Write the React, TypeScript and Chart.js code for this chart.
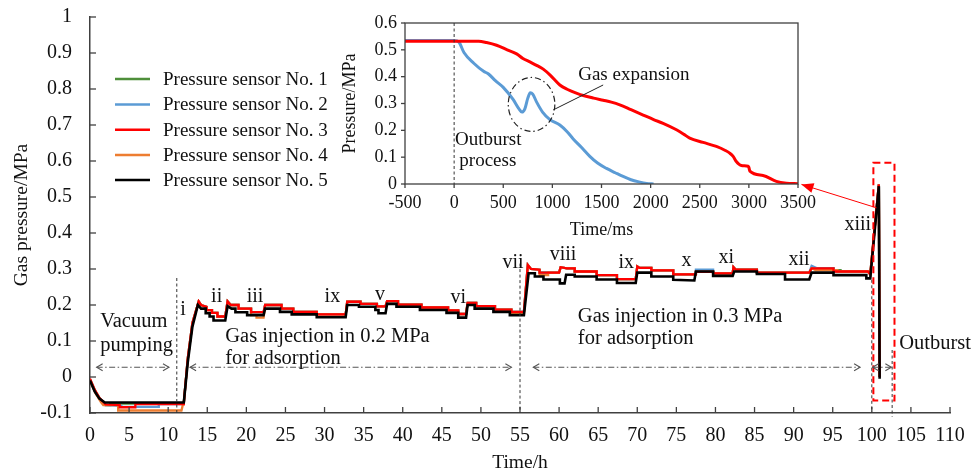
import React, { useEffect, useRef } from 'react';
import { Chart, registerables } from 'chart.js';

Chart.register(...registerables);

const FONT = '"Liberation Serif", "Times New Roman", serif';

type P = [number, number];

// ---------- main chart data (time in h, pressure in MPa) ----------
const sensorNames = [
  'Pressure sensor No. 1',
  'Pressure sensor No. 2',
  'Pressure sensor No. 3',
  'Pressure sensor No. 4',
  'Pressure sensor No. 5',
];
const sensorColors = ['#4E8F3A', '#5B9BD5', '#FF0000', '#ED7D31', '#000000'];

// vacuum pumping stage of sensors 1-4
const vacuum1: P[] = [[0, -0.006], [0.7, -0.04], [1.4, -0.065], [2.0, -0.078], [2.6, -0.078], [2.6, -0.074], [11.9, -0.074]];
const vacuum2: P[] = [[0, -0.008], [0.6, -0.04], [1.3, -0.062], [1.9, -0.078], [4.0, -0.08], [4.0, -0.083], [8.8, -0.083], [8.8, -0.075], [11.9, -0.075]];
const vacuum3: P[] = [[0, -0.005], [0.6, -0.035], [1.2, -0.058], [2.0, -0.076], [3.8, -0.078], [3.8, -0.084], [5.8, -0.084], [5.8, -0.075], [11.9, -0.075]];
const vacuum4: P[] = [[0, -0.01], [0.7, -0.045], [1.4, -0.07], [1.7, -0.078], [3.6, -0.078], [3.6, -0.093], [11.7, -0.093], [11.9, -0.075]];

// adsorption + outburst stage shared by sensors 1-4 (upper trace)
const upperProfile: P[] = [
  [12.0, -0.072], [12.5, 0.05], [13.1, 0.15], [13.9, 0.21], [14.2, 0.2], [14.9, 0.195], [14.9, 0.186],
  [15.6, 0.186], [15.6, 0.178], [16.3, 0.178], [16.3, 0.168], [17.3, 0.168], [17.6, 0.21], [18.0, 0.2],
  [19.0, 0.2], [19.0, 0.19], [20.6, 0.19], [20.6, 0.18], [22.2, 0.18], [22.4, 0.2], [24.5, 0.2],
  [24.5, 0.19], [26.0, 0.19], [26.0, 0.181], [29.0, 0.181], [29.0, 0.174], [32.7, 0.174], [32.9, 0.209],
  [34.6, 0.209], [34.6, 0.203], [36.7, 0.203], [36.7, 0.196], [37.8, 0.196], [38.0, 0.211], [39.4, 0.211],
  [39.4, 0.201], [42.4, 0.201], [42.4, 0.193], [45.8, 0.193], [45.8, 0.185], [47.1, 0.185], [47.1, 0.175],
  [48.1, 0.175], [48.3, 0.206], [49.4, 0.206], [49.4, 0.197], [51.8, 0.197], [51.8, 0.187], [53.9, 0.187],
  [53.9, 0.181], [55.5, 0.181], [56.0, 0.311], [56.4, 0.3], [57.5, 0.298], [57.5, 0.29], [60.0, 0.29],
  [60.2, 0.305], [61.0, 0.302], [62.0, 0.302], [62.0, 0.293], [64.8, 0.293], [64.8, 0.283], [67.4, 0.283],
  [67.4, 0.272], [69.8, 0.272], [70.0, 0.307], [70.3, 0.303], [71.8, 0.303], [71.8, 0.296], [74.6, 0.296],
  [74.6, 0.285], [77.4, 0.285], [77.5, 0.292], [79.7, 0.292], [79.7, 0.288], [82.2, 0.288], [82.3, 0.305],
  [82.6, 0.298], [85.3, 0.298], [85.3, 0.29], [92.0, 0.29], [92.3, 0.302], [95.1, 0.302], [95.1, 0.293],
  [99.5, 0.293], [99.8, 0.285], [100.9, 0.535], [101.0, 0.0],
];

// local deviations of individual sensors
const blueFixA: P[] = [[77.4, 0.285], [77.5, 0.298], [79.7, 0.298], [79.7, 0.288]];
const blueFixB: P[] = [[92.0, 0.29], [92.3, 0.309], [93.0, 0.302]];
const greenFix: P[] = [[95.1, 0.302], [95.1, 0.297], [96.0, 0.297], [96.0, 0.293]];
const orangeFixA: P[] = [[20.6, 0.19], [20.6, 0.172], [21.3, 0.172], [21.3, 0.165], [22.2, 0.165]];
const orangeFixB: P[] = [[53.9, 0.187], [53.9, 0.176], [55.5, 0.176]];
const orangeFixC: P[] = [[57.5, 0.298], [57.5, 0.283], [58.6, 0.283], [58.6, 0.29]];
const orangeFixD: P[] = [[92.3, 0.302], [92.8, 0.297], [95.6, 0.297], [95.6, 0.293]];

// sensor 5 (lower, black trace)
const sensor5: P[] = [
  [0, -0.01], [0.6, -0.04], [1.2, -0.06], [1.9, -0.071], [12.0, -0.071], [12.5, 0.04], [13.1, 0.14],
  [13.8, 0.2], [14.2, 0.19], [14.8, 0.19], [14.8, 0.177], [15.3, 0.177], [15.3, 0.168], [15.8, 0.168],
  [15.8, 0.157], [17.3, 0.157], [17.6, 0.197], [18.1, 0.19], [18.6, 0.19], [18.6, 0.18], [20.1, 0.18],
  [20.1, 0.172], [22.2, 0.172], [22.4, 0.19], [24.3, 0.19], [24.3, 0.181], [25.8, 0.181], [25.8, 0.174],
  [29.0, 0.174], [29.0, 0.166], [32.7, 0.166], [32.9, 0.2], [34.4, 0.2], [34.4, 0.195], [36.5, 0.195],
  [36.5, 0.186], [36.9, 0.186], [36.9, 0.177], [37.8, 0.177], [38.0, 0.203], [39.2, 0.203], [39.2, 0.195],
  [42.2, 0.195], [42.2, 0.186], [45.6, 0.186], [45.6, 0.178], [47.1, 0.178], [47.1, 0.165], [48.1, 0.165],
  [48.3, 0.2], [49.2, 0.2], [49.2, 0.19], [51.6, 0.19], [51.6, 0.181], [53.7, 0.181], [53.7, 0.172],
  [55.5, 0.172], [56.1, 0.288], [56.9, 0.288], [56.9, 0.279], [58.0, 0.279], [58.0, 0.271], [60.1, 0.271],
  [60.1, 0.26], [60.7, 0.26], [60.9, 0.284], [62.0, 0.284], [62.0, 0.279], [64.8, 0.279], [64.8, 0.271],
  [67.4, 0.271], [67.4, 0.261], [69.8, 0.261], [70.0, 0.29], [71.8, 0.29], [71.8, 0.279], [74.6, 0.279],
  [74.6, 0.27], [77.3, 0.268], [77.5, 0.293], [79.7, 0.293], [79.7, 0.281], [82.2, 0.281], [82.4, 0.293],
  [85.3, 0.293], [85.3, 0.286], [88.9, 0.286], [88.9, 0.271], [92.0, 0.271], [92.3, 0.29], [95.1, 0.29],
  [95.1, 0.283], [99.3, 0.283], [99.3, 0.274], [99.8, 0.274], [100.9, 0.53], [101.0, -0.005],
];

// ---------- inset data (time in ms, pressure in MPa) ----------
const insetBlue: P[] = [
  [-500, 0.535], [0, 0.535], [50, 0.528], [100, 0.49], [200, 0.45], [300, 0.42], [350, 0.41], [420, 0.385],
  [500, 0.36], [600, 0.315], [660, 0.28], [690, 0.268], [720, 0.28], [750, 0.32], [775, 0.34], [800, 0.335],
  [840, 0.305], [900, 0.268], [975, 0.24], [1076, 0.22], [1150, 0.195], [1212, 0.168], [1300, 0.135],
  [1381, 0.103], [1460, 0.078], [1551, 0.058], [1640, 0.042], [1720, 0.028], [1800, 0.016], [1880, 0.008],
  [1960, 0.002], [2030, 0],
];
const insetRed: P[] = [
  [-500, 0.532], [250, 0.532], [330, 0.527], [432, 0.517], [540, 0.5], [636, 0.485], [700, 0.468],
  [771, 0.455], [850, 0.44], [907, 0.428], [980, 0.405], [1076, 0.369], [1150, 0.353], [1250, 0.338],
  [1314, 0.33], [1420, 0.32], [1517, 0.312], [1600, 0.305], [1686, 0.295], [1800, 0.277], [1924, 0.257],
  [2030, 0.24], [2127, 0.226], [2263, 0.202], [2340, 0.185], [2398, 0.171], [2534, 0.155], [2669, 0.14],
  [2760, 0.125], [2805, 0.115], [2840, 0.103], [2870, 0.085], [2924, 0.069], [2992, 0.066], [3000, 0.062],
  [3010, 0.048], [3144, 0.032], [3280, 0.01], [3381, 0.003], [3500, 0.001],
];

// ---------- annotation labels ----------
const stageNumerals: [string, number, number][] = [
  ['i', 11.9, 0.186], ['ii', 16.2, 0.222], ['iii', 21.1, 0.222], ['ix', 31.0, 0.222], ['v', 37.1, 0.228],
  ['vi', 47.1, 0.219], ['vii', 54.1, 0.317], ['viii', 60.5, 0.339], ['ix', 68.6, 0.317], ['x', 76.3, 0.322],
  ['xi', 81.4, 0.33], ['xii', 90.7, 0.325], ['xiii', 98.2, 0.422],
];
const stageTexts: [string, number, number][] = [
  ['Vacuum', 1.3, 0.153], ['pumping', 1.3, 0.086],
  ['Gas injection in 0.2 MPa', 17.3, 0.111], ['for adsorption', 17.3, 0.05],
  ['Gas injection in 0.3 MPa', 62.4, 0.169], ['for adsorption', 62.4, 0.108],
  ['Outburst', 103.5, 0.094],
];
const stageArrows: [number, number, number][] = [
  [0.85, 10.1, 0.027], [12.8, 53.9, 0.027], [56.7, 98.5, 0.027], [100.1, 102.5, 0.027],
];
const dividerLines: [number, number, number][] = [
  [11.1, 0.275, -0.1], [55.0, 0.315, -0.1], [100.0, 0.27, -0.1], [102.6, 0.075, -0.11],
];

function splice(base: P[], seg: P[]): P[] {
  const a = seg[0][0];
  const b = seg[seg.length - 1][0];
  const out: P[] = [];
  let done = false;
  for (const p of base) {
    if (p[0] >= a && p[0] <= b) continue;
    if (p[0] > b && !done) {
      out.push(...seg);
      done = true;
    }
    out.push(p);
  }
  if (!done) out.push(...seg);
  return out;
}

const seriesData: P[][] = [
  splice([...vacuum1, ...upperProfile], greenFix),
  splice(splice([...vacuum2, ...upperProfile], blueFixA), blueFixB),
  [...vacuum3, ...upperProfile],
  splice(splice(splice(splice([...vacuum4, ...upperProfile], orangeFixA), orangeFixB), orangeFixC), orangeFixD),
  sensor5,
];
const drawOrder = [4, 3, 1, 2, 0];

const toXY = (arr: P[]) => arr.map(([x, y]) => ({ x, y }));

function setText(ctx: CanvasRenderingContext2D, size: number, align: CanvasTextAlign = 'left') {
  ctx.font = `${size}px ${FONT}`;
  ctx.textAlign = align;
  ctx.textBaseline = 'middle';
  ctx.fillStyle = '#111';
}

function line(ctx: CanvasRenderingContext2D, x1: number, y1: number, x2: number, y2: number) {
  ctx.beginPath();
  ctx.moveTo(x1, y1);
  ctx.lineTo(x2, y2);
  ctx.stroke();
}

const mainDecor = {
  id: 'mainDecor',
  afterDraw(chart: any) {
    const ctx: CanvasRenderingContext2D = chart.ctx;
    const xs = chart.scales.x;
    const ys = chart.scales.y;
    const X = (v: number) => xs.getPixelForValue(v);
    const Y = (v: number) => ys.getPixelForValue(v);
    const { left, bottom } = chart.chartArea;
    ctx.save();
    // inward tick marks
    ctx.strokeStyle = '#404040';
    ctx.lineWidth = 1.3;
    for (const t of xs.ticks) line(ctx, X(t.value), bottom, X(t.value), bottom - 6);
    for (const t of ys.ticks) line(ctx, left, Y(t.value), left + 6, Y(t.value));

    // legend
    const rowsY = [79, 104.5, 129.7, 154.9, 180.1];
    sensorNames.forEach((name, i) => {
      ctx.strokeStyle = sensorColors[i];
      ctx.lineWidth = 2.5;
      line(ctx, 115, rowsY[i], 150, rowsY[i]);
      setText(ctx, 19);
      ctx.fillText(name, 163, rowsY[i] + 1);
    });

    // dotted dividers
    ctx.strokeStyle = '#333';
    ctx.lineWidth = 1;
    ctx.setLineDash([3, 2.5]);
    for (const [t, v1, v2] of dividerLines) line(ctx, X(t), Y(v1), X(t), Y(v2));

    // red dashed box
    ctx.strokeStyle = '#FF0000';
    ctx.lineWidth = 2;
    ctx.setLineDash([7, 4]);
    ctx.strokeRect(X(100.2), Y(0.595), X(102.9) - X(100.2), Y(-0.065) - Y(0.595));
    ctx.setLineDash([]);

    // red arrow to inset
    const tx = X(100.6), ty = Y(0.47), hx = X(91.0), hy = Y(0.535);
    ctx.lineWidth = 1;
    line(ctx, tx, ty, hx, hy);
    const ang = Math.atan2(hy - ty, hx - tx);
    ctx.fillStyle = '#FF0000';
    ctx.beginPath();
    ctx.moveTo(hx, hy);
    ctx.lineTo(hx - 12 * Math.cos(ang) + 5 * Math.sin(ang), hy - 12 * Math.sin(ang) - 5 * Math.cos(ang));
    ctx.lineTo(hx - 12 * Math.cos(ang) - 5 * Math.sin(ang), hy - 12 * Math.sin(ang) + 5 * Math.cos(ang));
    ctx.closePath();
    ctx.fill();

    // stage arrows (dash-dot, double headed)
    ctx.strokeStyle = '#555';
    ctx.lineWidth = 1.1;
    for (const [a, b, v] of stageArrows) {
      const x1 = X(a), x2 = X(b), y = Y(v);
      ctx.setLineDash([6, 2.5, 1.5, 2.5]);
      line(ctx, x1, y, x2, y);
      ctx.setLineDash([]);
      const h = Math.min(6, (x2 - x1) / 3);
      ctx.beginPath();
      ctx.moveTo(x1 + h, y - 3.5); ctx.lineTo(x1, y); ctx.lineTo(x1 + h, y + 3.5);
      ctx.moveTo(x2 - h, y - 3.5); ctx.lineTo(x2, y); ctx.lineTo(x2 - h, y + 3.5);
      ctx.stroke();
    }

    // texts
    for (const [s, t, v] of stageTexts) {
      setText(ctx, 20.5);
      ctx.fillText(s, X(t), Y(v));
    }
    for (const [s, t, v] of stageNumerals) {
      setText(ctx, 20, 'center');
      ctx.fillText(s, X(t), Y(v));
    }
    ctx.restore();
  },
};

const insetDecor = {
  id: 'insetDecor',
  afterDraw(chart: any) {
    const ctx: CanvasRenderingContext2D = chart.ctx;
    const xs = chart.scales.x;
    const ys = chart.scales.y;
    const X = (v: number) => xs.getPixelForValue(v);
    const Y = (v: number) => ys.getPixelForValue(v);
    const { left, right, top, bottom } = chart.chartArea;
    ctx.save();
    ctx.strokeStyle = '#404040';
    ctx.lineWidth = 1.3;
    ctx.strokeRect(left, top, right - left, bottom - top);
    for (const t of xs.ticks) line(ctx, X(t.value), bottom, X(t.value), bottom + 4);
    for (const t of ys.ticks) line(ctx, left, Y(t.value), left - 4, Y(t.value));
    // dashed line at t = 0
    ctx.strokeStyle = '#333';
    ctx.lineWidth = 1;
    ctx.setLineDash([3, 2.5]);
    line(ctx, X(0), top, X(0), bottom);
    // dash-dot ellipse
    ctx.setLineDash([6, 3, 1.5, 3]);
    ctx.strokeStyle = '#222';
    ctx.lineWidth = 1.2;
    ctx.beginPath();
    ctx.ellipse((X(551) + X(1025)) / 2, (Y(0.397) + Y(0.196)) / 2, (X(1025) - X(551)) / 2, (Y(0.196) - Y(0.397)) / 2, 0, 0, Math.PI * 2);
    ctx.stroke();
    ctx.setLineDash([]);
    ctx.lineWidth = 1;
    line(ctx, X(1008), Y(0.276), X(1517), Y(0.369));
    setText(ctx, 19);
    ctx.fillText('Gas expansion', X(1263), Y(0.406));
    ctx.fillText('Outburst', X(8), Y(0.165));
    ctx.fillText('process', X(53), Y(0.084));
    ctx.restore();
  },
};

function fmt1(v: number) {
  const r = Math.round(v * 10) / 10;
  return r === 0 ? '0' : String(r);
}

export default function App() {
  const mainRef = useRef<HTMLCanvasElement>(null);
  const insetRef = useRef<HTMLCanvasElement>(null);

  useEffect(() => {
    const tickFont = { family: FONT, size: 20 };
    const main = new Chart(mainRef.current as HTMLCanvasElement, {
      type: 'line',
      data: {
        datasets: seriesData.map((d, i) => ({
          label: sensorNames[i],
          data: toXY(d),
          borderColor: sensorColors[i],
          borderWidth: i === 4 ? 2.6 : 2.3,
          pointRadius: 0,
          tension: 0,
          fill: false,
          order: drawOrder[i],
        })),
      },
      options: {
        responsive: false,
        animation: false,
        events: [],
        layout: { padding: { left: 0, top: 17, right: 27, bottom: 0 } },
        plugins: { legend: { display: false }, tooltip: { enabled: false } },
        scales: {
          x: {
            type: 'linear',
            min: 0,
            max: 110,
            afterFit: (s: any) => { s.height = 58; },
            ticks: { stepSize: 5, autoSkip: false, maxRotation: 0, padding: 0, color: '#111', font: tickFont, callback: (v: any) => String(v) },
            grid: { display: false, drawTicks: true, tickLength: 11 },
            border: { display: true, color: '#404040', width: 1.5 },
            title: { display: true, text: 'Time/h', color: '#111', font: { family: FONT, size: 19.5 }, padding: { top: 0, bottom: -4 } },
          },
          y: {
            type: 'linear',
            min: -0.1,
            max: 1,
            afterFit: (s: any) => { s.width = 90; },
            ticks: { stepSize: 0.1, autoSkip: false, padding: 0, color: '#111', font: tickFont, callback: (v: any) => fmt1(Number(v)) },
            grid: { display: false, drawTicks: true, tickLength: 18 },
            border: { display: true, color: '#404040', width: 1.5 },
            title: { display: true, text: 'Gas pressure/MPa', color: '#111', font: { family: FONT, size: 19.5 }, padding: { top: 10, bottom: 0 } },
          },
        },
      } as any,
      plugins: [mainDecor],
    });

    const insetFont = { family: FONT, size: 18 };
    const inset = new Chart(insetRef.current as HTMLCanvasElement, {
      type: 'line',
      data: {
        datasets: [
          { label: 'Pressure sensor No. 2', data: toXY(insetBlue), borderColor: '#5B9BD5', borderWidth: 3, pointRadius: 0, cubicInterpolationMode: 'monotone', order: 1 },
          { label: 'Pressure sensor No. 3', data: toXY(insetRed), borderColor: '#FF0000', borderWidth: 3, pointRadius: 0, cubicInterpolationMode: 'monotone', order: 0 },
        ],
      },
      options: {
        responsive: false,
        animation: false,
        events: [],
        layout: { padding: { left: 0, top: 23, right: 18, bottom: 0 } },
        plugins: { legend: { display: false }, tooltip: { enabled: false } },
        scales: {
          x: {
            type: 'linear',
            min: -500,
            max: 3500,
            afterFit: (s: any) => { s.height = 56; },
            ticks: { stepSize: 500, autoSkip: false, maxRotation: 0, padding: 0, color: '#111', font: insetFont, callback: (v: any) => String(v) },
            grid: { display: false, drawTicks: true, tickLength: 8 },
            border: { display: false },
            title: { display: true, text: 'Time/ms', color: '#111', font: insetFont, padding: { top: 0, bottom: -1 } },
          },
          y: {
            type: 'linear',
            min: 0,
            max: 0.6,
            afterFit: (s: any) => { s.width = 75; },
            ticks: { stepSize: 0.1, autoSkip: false, padding: 0, color: '#111', font: insetFont, callback: (v: any) => fmt1(Number(v)) },
            grid: { display: false, drawTicks: true, tickLength: 8 },
            border: { display: false },
            title: { display: true, text: 'Pressure/MPa', color: '#111', font: insetFont, padding: { top: 9, bottom: 0 } },
          },
        },
      } as any,
      plugins: [insetDecor],
    });

    return () => {
      main.destroy();
      inset.destroy();
    };
  }, []);

  return (
    <div style={{ position: 'absolute', left: 0, top: 0, width: 977, height: 471, background: '#ffffff', overflow: 'hidden' }}>
      <canvas ref={mainRef} width={977} height={471} style={{ position: 'absolute', left: 0, top: 0 }} />
      <canvas ref={insetRef} width={486} height={240} style={{ position: 'absolute', left: 330, top: 0 }} />
    </div>
  );
}
